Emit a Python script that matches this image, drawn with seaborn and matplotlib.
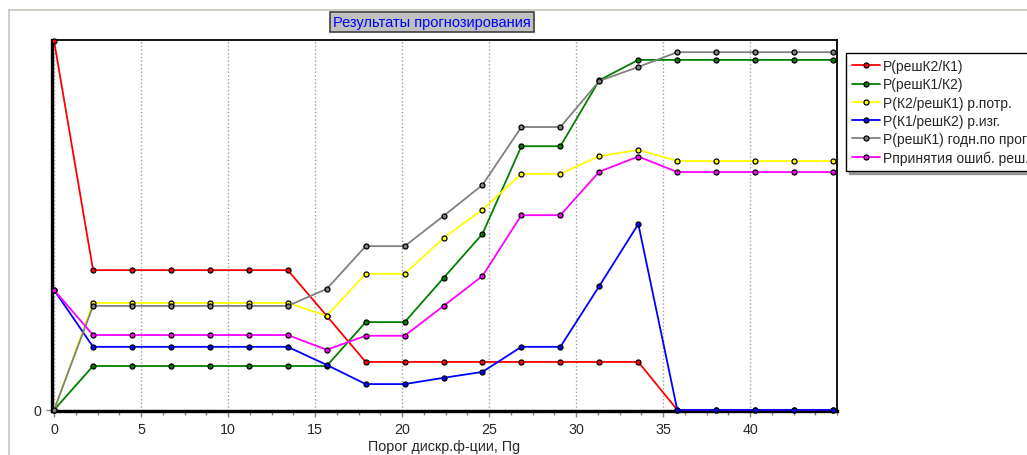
import pandas as pd
import numpy as np
import matplotlib
matplotlib.use('Agg')
import matplotlib.pyplot as plt
import seaborn as sns
from matplotlib.lines import Line2D
from matplotlib.ticker import MultipleLocator

# thresholds (x) and probabilities of each series
porog = [0, 2.24, 4.48, 6.72, 8.95, 11.19, 13.43, 15.67, 17.91, 20.15, 22.39,
         24.62, 26.86, 29.10, 31.34, 33.58, 35.82, 38.06, 40.29, 42.53, 44.77]

p_resh_k2_k1 = [1.0, 0.379, 0.379, 0.379, 0.379, 0.379, 0.379, 0.255, 0.130, 0.130, 0.130,
                0.130, 0.130, 0.130, 0.130, 0.130, 0.0, 0.0, 0.0, 0.0, 0.0]
p_resh_k1_k2 = [0.0, 0.119, 0.119, 0.119, 0.119, 0.119, 0.119, 0.119, 0.238, 0.238, 0.358,
                0.477, 0.715, 0.715, 0.894, 0.949, 0.949, 0.949, 0.949, 0.949, 0.949]
p_k2_resh_k1 = [0.0, 0.290, 0.290, 0.290, 0.290, 0.290, 0.290, 0.255, 0.369, 0.369, 0.466,
                0.543, 0.640, 0.640, 0.688, 0.705, 0.675, 0.675, 0.675, 0.675, 0.675]
p_k1_resh_k2 = [0.325, 0.171, 0.171, 0.171, 0.171, 0.171, 0.171, 0.122, 0.070, 0.070, 0.087,
                0.103, 0.171, 0.171, 0.336, 0.504, 0.0, 0.0, 0.0, 0.0, 0.0]
p_resh_k1 = [0.0, 0.282, 0.282, 0.282, 0.282, 0.282, 0.282, 0.328, 0.444, 0.444, 0.526,
             0.610, 0.767, 0.767, 0.892, 0.930, 0.970, 0.970, 0.970, 0.970, 0.970]
p_oshib = [0.325, 0.203, 0.203, 0.203, 0.203, 0.203, 0.203, 0.163, 0.201, 0.201, 0.282,
           0.363, 0.528, 0.528, 0.646, 0.687, 0.645, 0.645, 0.645, 0.645, 0.645]

names = ['P(решК2/К1)', 'P(решК1/К2)', 'P(К2/решК1) р.потр.', 'P(К1/решК2) р.изг.',
         'P(решК1) годн.по прогнозу', 'Pпринятия ошиб. реш.']
series = [p_resh_k2_k1, p_resh_k1_k2, p_k2_resh_k1, p_k1_resh_k2, p_resh_k1, p_oshib]
colors = ['#ff0000', '#008000', '#ffff00', '#0000ff', '#808080', '#ff00ff']

df = pd.concat([pd.DataFrame({'x': porog, 'y': s, 'name': n}) for n, s in zip(names, series)])

sns.set_style('white')
plt.rcParams['font.family'] = ['Liberation Sans', 'DejaVu Sans']

fig = plt.figure(figsize=(10.27, 4.56), dpi=100)
ax = fig.add_axes([52 / 1027, 1 - 412 / 456, 785 / 1027, 371 / 456])

for n, c in zip(names, colors):
    sns.lineplot(data=df[df['name'] == n], x='x', y='y', color=c, lw=1.3,
                 marker='o', markersize=3.6, markeredgecolor='black',
                 markeredgewidth=0.9, markerfacecolor=c, label=n, ax=ax, legend=False,
                 clip_on=False, zorder=3)

ax.set_xlim(-0.12, 45.0)
ax.set_ylim(-0.003, 1.003)
ax.set_xticks([0, 5, 10, 15, 20, 25, 30, 35, 40])
ax.xaxis.set_minor_locator(MultipleLocator(1.25))
ax.set_yticks([0])
ax.set_yticklabels(['0'])
ax.tick_params(axis='both', which='both', direction='out', length=4, width=1,
               color='#808080', labelsize=10.3, pad=4, bottom=True, left=True)
ax.tick_params(axis='x', which='minor', length=3)
for x in [0, 5, 10, 15, 20, 25, 30, 35, 40]:
    ax.axvline(x, color='#a0a0a0', ls=':', lw=1, zorder=1)
ax.axhline(0, color='#a0a0a0', ls=':', lw=1, zorder=1)

for side in ['left', 'bottom']:
    ax.spines[side].set_linewidth(2.4)
    ax.spines[side].set_color('black')
for side in ['top', 'right']:
    ax.spines[side].set_linewidth(1.3)
    ax.spines[side].set_color('black')

ax.set_xlabel('Порог дискр.ф-ции, Пg', fontsize=10.3, labelpad=2)
ax.set_ylabel('')

# title box
fig.text(432 / 1027, 1 - 23 / 456, 'Результаты прогнозирования', color='#0000ff',
         fontsize=10.5, ha='center', va='center',
         bbox=dict(facecolor='#c0c0c0', edgecolor='#404040', boxstyle='square,pad=0.2', lw=1.2))

# outer panel border
fig.add_artist(Line2D([9 / 1027, 1], [1 - 11 / 456, 1 - 11 / 456], color='#c8c4bc', lw=1.2))
fig.add_artist(Line2D([9 / 1027, 9 / 1027], [0, 1 - 11 / 456], color='#c8c4bc', lw=1.2))

handles = [Line2D([], [], color=c, lw=1.3, marker='o', markersize=3.6,
                  markeredgecolor='black', markeredgewidth=0.9, markerfacecolor=c)
           for c in colors]
leg = fig.legend(handles, names, loc='upper left', bbox_to_anchor=(846 / 1027, 1 - 54 / 456),
                 fontsize=10.0, frameon=True, fancybox=False, shadow=True, framealpha=1,
                 edgecolor='black', handlelength=2.0, handletextpad=0.2, labelspacing=0.3,
                 borderpad=0.45, borderaxespad=0)
leg.get_frame().set_linewidth(1)

fig.savefig('out.png', dpi=100)
